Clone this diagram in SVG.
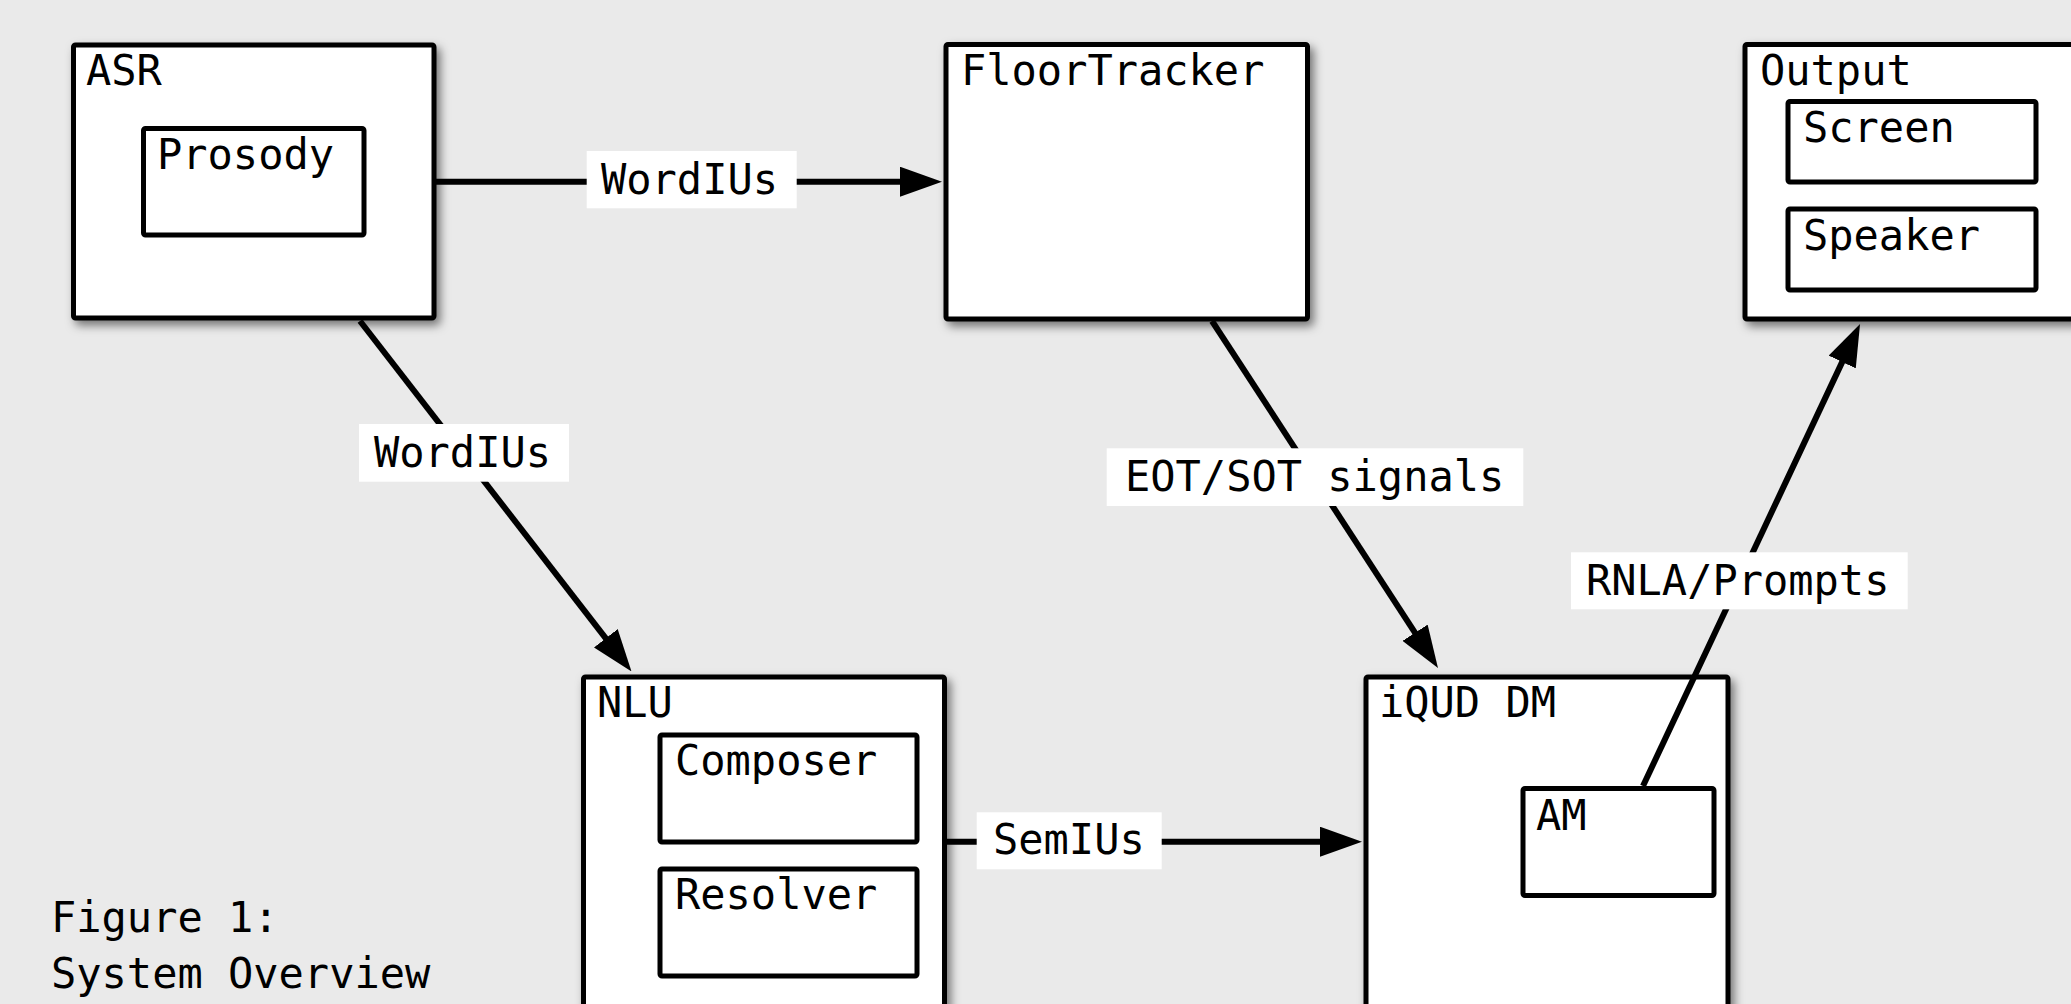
<svg xmlns="http://www.w3.org/2000/svg" width="2071" height="1004" viewBox="0 0 2071 1004">
<style>
text{font-family:"DejaVu Sans Mono","Liberation Mono",monospace;font-size:42px;fill:#000}
.box{fill:#fff;stroke:#000;stroke-width:5}
.outer{filter:url(#sh)}
.conn{stroke:#000;stroke-width:6;fill:none;marker-end:url(#ah)}
.lbl{fill:#fff}
</style>
<defs>
<filter id="sh" x="-10%" y="-10%" width="130%" height="130%">
<feDropShadow dx="4" dy="5" stdDeviation="5" flood-color="#000" flood-opacity="0.5"/>
</filter>
<marker id="ah" markerUnits="userSpaceOnUse" markerWidth="42" markerHeight="30" refX="1" refY="15" orient="auto" viewBox="0 0 42 30">
<path d="M0,0 L42,15 L0,30 z" fill="#000"/>
</marker>
</defs>
<rect width="2071" height="1004" fill="#eaeaea"/>
<g id="asr">
<rect class="box outer" x="73.5" y="45" width="360.5" height="273" rx="2"/>
<text x="86" y="85">ASR</text>
<g id="prosody">
<rect class="box" x="143.5" y="128.5" width="220.5" height="106.5" rx="2"/>
<text x="157" y="169">Prosody</text>
</g>
</g>
<g id="floortracker">
<rect class="box outer" x="946" y="44.5" width="361.5" height="274.5" rx="2"/>
<text x="961" y="85">FloorTracker</text>
</g>
<g id="output">
<rect class="box outer" x="1745" y="44.5" width="361" height="274.5" rx="2"/>
<text x="1760" y="85">Output</text>
<g id="screen">
<rect class="box" x="1788" y="101.5" width="248" height="80.5" rx="2"/>
<text x="1803" y="141.5">Screen</text>
</g>
<g id="speaker">
<rect class="box" x="1788" y="209" width="248" height="81" rx="2"/>
<text x="1803" y="250">Speaker</text>
</g>
</g>
<g id="nlu">
<rect class="box outer" x="583.5" y="677" width="361" height="400" rx="2"/>
<text x="597" y="717">NLU</text>
<g id="composer">
<rect class="box" x="660" y="735" width="257" height="107" rx="2"/>
<text x="675" y="775">Composer</text>
</g>
<g id="resolver">
<rect class="box" x="660" y="869" width="257" height="107" rx="2"/>
<text x="675" y="909">Resolver</text>
</g>
</g>
<g id="iqud-dm">
<rect class="box outer" x="1366" y="677" width="362" height="400" rx="2"/>
<text x="1379" y="717">iQUD DM</text>
<g id="am">
<rect class="box" x="1523" y="788.5" width="191" height="107" rx="2"/>
<text x="1536" y="830">AM</text>
</g>
</g>
<g id="connectors">
<path class="conn" d="M436 181.7 L901 181.7"/>
<path class="conn" d="M360 321 L606.4 639.1"/>
<path class="conn" d="M1212 321 L1415.6 633.6"/>
<path class="conn" d="M1643 786 L1842.6 361.1"/>
<path class="conn" d="M947 841.7 L1321 841.7"/>
<rect class="lbl" x="586.7" y="151" width="210" height="57.3"/>
<text x="601" y="194">WordIUs</text>
<rect class="lbl" x="359" y="424" width="210" height="57.7"/>
<text x="374" y="466.5">WordIUs</text>
<rect class="lbl" x="1106.7" y="448.3" width="416.6" height="57.7"/>
<text x="1125" y="490.5">EOT/SOT signals</text>
<rect class="lbl" x="1571" y="552.3" width="336.7" height="57"/>
<text x="1586" y="595">RNLA/Prompts</text>
<rect class="lbl" x="976.7" y="812.3" width="185" height="57"/>
<text x="993" y="854">SemIUs</text>
</g>
<g id="caption">
<text x="51" y="931.5">Figure 1:</text>
<text x="51" y="988">System Overview</text>
</g>
</svg>
